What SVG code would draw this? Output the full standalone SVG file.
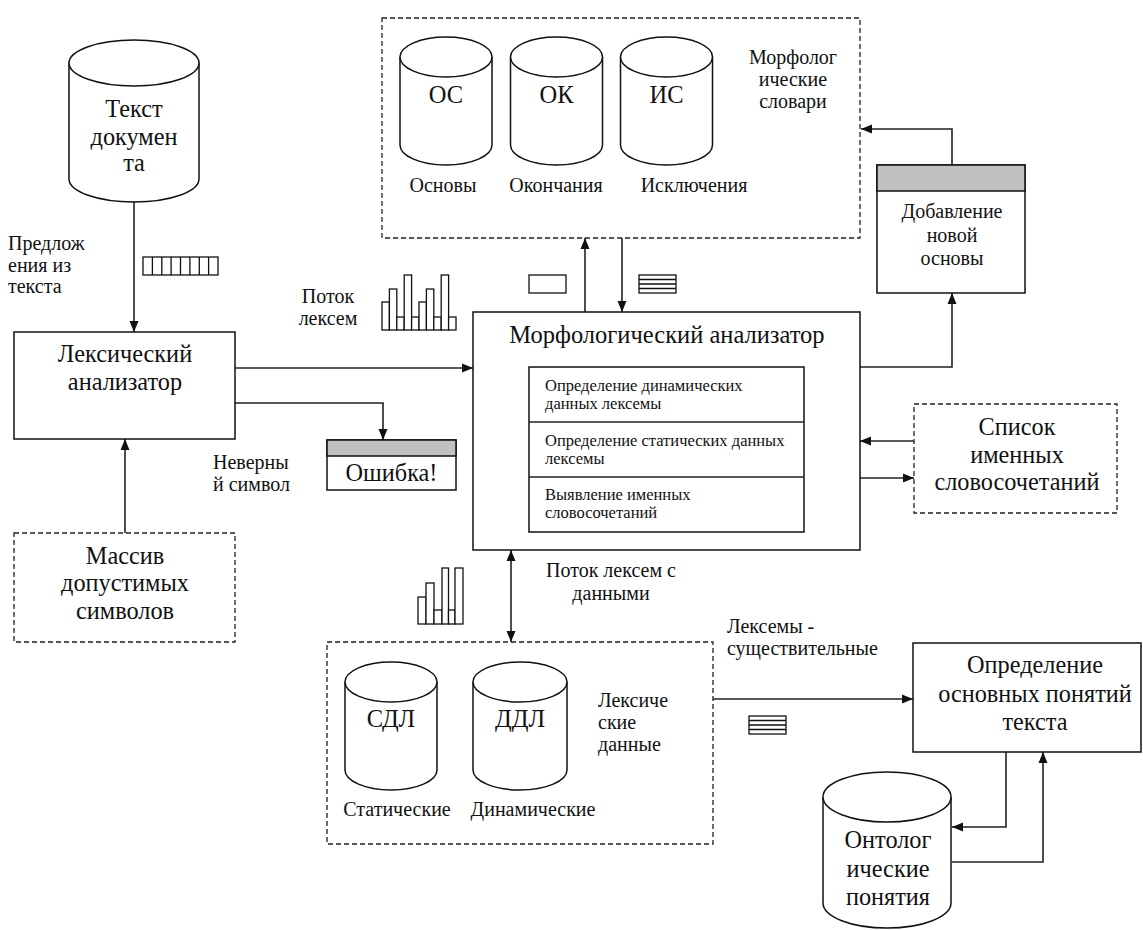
<svg xmlns="http://www.w3.org/2000/svg" width="1143" height="930" viewBox="0 0 1143 930">
<defs>
<marker id="ah" markerWidth="11" markerHeight="10" refX="11" refY="5" orient="auto-start-reverse" markerUnits="userSpaceOnUse"><path d="M0,0.5 L11,5 L0,9.5 z" fill="#111"/></marker>
<style>
.box{fill:#fff;stroke:#111;stroke-width:1.5}
.dash{fill:#fff;stroke:#222;stroke-width:1.3;stroke-dasharray:5 3}
.hdr{fill:#c0c0c0;stroke:#111;stroke-width:1.5}
.cyl{fill:#fff;stroke:#111;stroke-width:1.5}
.ln{fill:none;stroke:#222;stroke-width:1.6}
.ico{fill:#fff;stroke:#111;stroke-width:1.3}
.t20{font-family:"Liberation Serif","DejaVu Serif",serif;font-size:24.3px;fill:#111;text-anchor:middle}
.t22{font-family:"Liberation Serif","DejaVu Serif",serif;font-size:24.5px;fill:#111;text-anchor:middle}
.t16{font-family:"Liberation Serif","DejaVu Serif",serif;font-size:20px;fill:#111}
.c{text-anchor:middle}
.t13{font-family:"Liberation Serif","DejaVu Serif",serif;font-size:16.5px;fill:#111}
</style>
</defs>
<rect width="1143" height="930" fill="#fff"/>

<g id="connectors">
<path class="ln" d="M134,202 V332" marker-end="url(#ah)"/>
<path class="ln" d="M125,533 V439" marker-end="url(#ah)"/>
<path class="ln" d="M235,368 H473" marker-end="url(#ah)"/>
<path class="ln" d="M235,403 H383 V440" marker-end="url(#ah)"/>
<path class="ln" d="M585,312 V238" marker-end="url(#ah)"/>
<path class="ln" d="M622,238 V312" marker-end="url(#ah)"/>
<path class="ln" d="M860,367 H952 V293" marker-end="url(#ah)"/>
<path class="ln" d="M952,165 V129 H861" marker-end="url(#ah)"/>
<path class="ln" d="M914,441 H860" marker-end="url(#ah)"/>
<path class="ln" d="M860,478 H914" marker-end="url(#ah)"/>
<path class="ln" d="M511,550 V642" marker-start="url(#ah)" marker-end="url(#ah)"/>
<path class="ln" d="M713,699 H913" marker-end="url(#ah)"/>
<path class="ln" d="M1006,752 V827 H952" marker-end="url(#ah)"/>
<path class="ln" d="M952,862 H1043 V752" marker-end="url(#ah)"/>
</g>

<g id="text-doc">
<path class="cyl" d="M69,63 V179 A65,23 0 0 0 199,179 V63"/>
<ellipse class="cyl" cx="134" cy="63" rx="65" ry="23"/>
<text class="t20" x="134" y="117">Текст</text>
<text class="t20" x="134" y="145">докумен</text>
<text class="t20" x="134" y="171">та</text>
</g>

<g id="label-sentences">
<text class="t16" x="8" y="250">Предлож</text>
<text class="t16" x="8" y="272">ения из</text>
<text class="t16" x="8" y="293">текста</text>
<g class="ico">
<rect x="143" y="257" width="75" height="18"/>
<path d="M152.4,257 V275 M161.8,257 V275 M171.1,257 V275 M180.5,257 V275 M189.9,257 V275 M199.3,257 V275 M208.6,257 V275"/>
</g>
</g>

<g id="lex-analyzer">
<rect class="box" x="14" y="332" width="221" height="107"/>
<text class="t20" x="125" y="362">Лексический</text>
<text class="t20" x="125" y="390">анализатор</text>
</g>

<g id="symbols-array">
<rect class="dash" x="14" y="533" width="221" height="109"/>
<text class="t20" x="125" y="564">Массив</text>
<text class="t20" x="125" y="591">допустимых</text>
<text class="t20" x="125" y="619">символов</text>
</g>

<g id="label-invalid">
<text class="t16" x="213" y="469">Неверны</text>
<text class="t16" x="213" y="491">й символ</text>
</g>

<g id="error">
<rect class="box" x="327" y="440" width="129" height="50"/>
<rect class="hdr" x="327" y="440" width="129" height="16"/>
<text class="t20" x="391.5" y="481">Ошибка!</text>
</g>

<g id="label-lexstream">
<text class="t16 c" x="328" y="303">Поток</text>
<text class="t16 c" x="328" y="325">лексем</text>
<g class="ico">
<rect x="382" y="302" width="7.4" height="28"/>
<rect x="389.4" y="289" width="7.4" height="41"/>
<rect x="396.8" y="317" width="7.4" height="13"/>
<rect x="404.2" y="275" width="7.4" height="55"/>
<rect x="411.6" y="317" width="7.4" height="13"/>
<rect x="419" y="302" width="7.4" height="28"/>
<rect x="426.4" y="289" width="7.4" height="41"/>
<rect x="433.8" y="317" width="7.4" height="13"/>
<rect x="441.2" y="275" width="7.4" height="55"/>
<rect x="448.6" y="317" width="7.4" height="13"/>
</g>
</g>

<g id="morph-dicts">
<rect class="dash" x="382" y="18" width="478" height="220"/>
<path class="cyl" d="M400,57 V145 A46,20 0 0 0 492,145 V57"/>
<ellipse class="cyl" cx="446" cy="57" rx="46" ry="20"/>
<path class="cyl" d="M510.5,57 V145 A46,20 0 0 0 602.5,145 V57"/>
<ellipse class="cyl" cx="556.5" cy="57" rx="46" ry="20"/>
<path class="cyl" d="M620.5,57 V145 A46,20 0 0 0 712.5,145 V57"/>
<ellipse class="cyl" cx="666.5" cy="57" rx="46" ry="20"/>
<text class="t22" x="446" y="103">ОС</text>
<text class="t22" x="556.5" y="103">ОК</text>
<text class="t22" x="666.5" y="103">ИС</text>
<text class="t16 c" x="443" y="192">Основы</text>
<text class="t16 c" x="556" y="192">Окончания</text>
<text class="t16 c" x="694" y="192">Исключения</text>
<text class="t16 c" x="793" y="64">Морфолог</text>
<text class="t16 c" x="793" y="86">ические</text>
<text class="t16 c" x="793" y="108">словари</text>
</g>

<g id="icons-top">
<rect class="ico" x="529" y="275" width="37" height="18"/>
<rect class="ico" x="639" y="275" width="37" height="18"/>
<path class="ico" d="M639,279.5 H676 M639,284 H676 M639,288.5 H676"/>
</g>

<g id="add-stem">
<rect class="box" x="877" y="165" width="148" height="128"/>
<rect class="hdr" x="877" y="165" width="148" height="26"/>
<text class="t16 c" x="952" y="218">Добавление</text>
<text class="t16 c" x="952" y="242">новой</text>
<text class="t16 c" x="952" y="265">основы</text>
</g>

<g id="morph-analyzer">
<rect class="box" x="473" y="312" width="387" height="238"/>
<text class="t20" x="667" y="343" style="font-size:24.5px">Морфологический анализатор</text>
<rect class="box" x="529" y="367" width="275" height="165"/>
<path class="ln" d="M529,422 H804 M529,477 H804"/>
<text class="t13" x="545" y="391">Определение динамических</text>
<text class="t13" x="545" y="409">данных лексемы</text>
<text class="t13" x="545" y="446">Определение статических данных</text>
<text class="t13" x="545" y="464">лексемы</text>
<text class="t13" x="545" y="500">Выявление именных</text>
<text class="t13" x="545" y="518">словосочетаний</text>
</g>

<g id="noun-phrases">
<rect class="dash" x="914" y="404" width="203" height="109"/>
<text class="t20" x="1017" y="435">Список</text>
<text class="t20" x="1017" y="463">именных</text>
<text class="t20" x="1017" y="490">словосочетаний</text>
</g>

<g id="label-lexdata-stream">
<text class="t16 c" x="611" y="577">Поток лексем с</text>
<text class="t16 c" x="611" y="600">данными</text>
<g class="ico">
<rect x="418" y="597" width="8" height="27"/>
<rect x="426" y="583" width="8" height="41"/>
<rect x="434" y="610" width="8" height="14"/>
<rect x="442" y="568" width="6.5" height="56"/>
<rect x="448.5" y="610" width="6.5" height="14"/>
<rect x="455" y="568" width="8" height="56"/>
</g>
</g>

<g id="lex-data">
<rect class="dash" x="327" y="642" width="386" height="202"/>
<path class="cyl" d="M345,682 V770 A46,20 0 0 0 437,770 V682"/>
<ellipse class="cyl" cx="391" cy="682" rx="46" ry="20"/>
<path class="cyl" d="M473,682 V770 A47,20 0 0 0 567,770 V682"/>
<ellipse class="cyl" cx="520" cy="682" rx="47" ry="20"/>
<text class="t22" x="391" y="727">СДЛ</text>
<text class="t22" x="520" y="727">ДДЛ</text>
<text class="t16 c" x="397" y="816">Статические</text>
<text class="t16 c" x="533" y="816">Динамические</text>
<text class="t16" x="598" y="707">Лексиче</text>
<text class="t16" x="598" y="729">ские</text>
<text class="t16" x="598" y="751">данные</text>
</g>

<g id="label-nouns">
<text class="t16" x="727" y="633">Лексемы -</text>
<text class="t16" x="727" y="655">существительные</text>
<rect class="ico" x="749" y="716" width="37" height="18"/>
<path class="ico" d="M749,720.5 H786 M749,725 H786 M749,729.5 H786"/>
</g>

<g id="main-concepts">
<rect class="box" x="913" y="643" width="228" height="109"/>
<text class="t20" x="1035" y="673">Определение</text>
<text class="t20" x="1035" y="702">основных понятий</text>
<text class="t20" x="1035" y="730">текста</text>
</g>

<g id="ontology">
<path class="cyl" d="M823,797 V903 A64,25 0 0 0 951,903 V797"/>
<ellipse class="cyl" cx="887" cy="797" rx="64" ry="25"/>
<text class="t20" x="888" y="848">Онтолог</text>
<text class="t20" x="888" y="877">ические</text>
<text class="t20" x="888" y="905">понятия</text>
</g>
</svg>
